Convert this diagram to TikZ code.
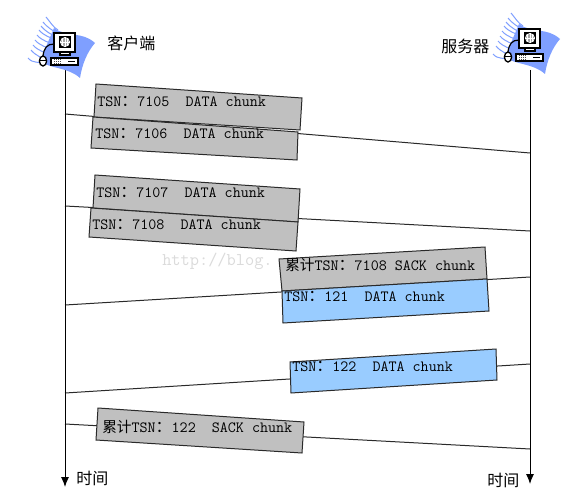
\documentclass[tikz,border=0pt]{standalone}
\usepackage{fontspec}
\newfontfamily\cjk{Noto Sans CJK SC}
\newcommand{\cj}[1]{{\cjk\fontsize{12pt}{12pt}\selectfont #1}}
\newcommand{\cjs}[1]{{\cjk\fontsize{11pt}{12pt}\selectfont #1}}
\usetikzlibrary{arrows.meta}
\definecolor{boxgray}{HTML}{C0C0C0}
\definecolor{boxblue}{HTML}{99CCFF}
\definecolor{swoosh}{HTML}{7F9FFF}
\definecolor{edgegray}{HTML}{2A2A2A}
\tikzset{
  msgbox/.style={draw=edgegray,line width=0.75pt,line join=miter},
  graybox/.style={msgbox,fill=boxgray},
  bluebox/.style={msgbox,fill=boxblue},
  msgline/.style={draw=edgegray,line width=0.75pt},
  lifeline/.style={draw=black,line width=0.75pt,-{Latex[length=7.5pt,width=6pt]}},
  boxlabel/.style={anchor=west,inner sep=0pt,font=\ttfamily\fontsize{11.7pt}{12pt}\selectfont},
  caption/.style={anchor=west,inner sep=0pt},
  stripe/.style={draw=swoosh,line width=0.75pt}
}
\newcommand{\hosticon}[2]{%
\begin{scope}[shift={(#1,#2)}]
  \fill[swoosh] (54,28) .. controls (68,38) and (82,31) .. (95,43)
     .. controls (87,52) and (82,65) .. (80,78)
     .. controls (68,67) and (50,69) .. (40,61) -- cycle;
  \foreach \a/\b/\c/\d in {46/17/58/30,43/22/57/33,41/26/56/37,39/30/55/40,37/35/54/45,35/40/52/50,33/45/50/55,31/50/46/60,28/58/44/64}
    \draw[stripe] (\a,\b) .. controls ({\a+5},{\b+6}) and ({\c-5},{\d-3}) .. (\c,\d);
  \draw[black,line width=0.9pt] (43,56) .. controls (44,48) and (47,44) .. (54,44);
  \draw[black,fill=white,line width=1pt] (43,61) ellipse (3.6 and 5);
  \draw[black,line width=.6pt] (39.5,60) -- (46.5,60);
  \draw[black,fill=white,line width=1pt] (54,33) rectangle (75,52);
  \fill[black] (58.5,36.5) rectangle (71,48);
  \draw[white,fill=gray!70,line width=.5pt] (65,42) circle (4.6);
  \draw[white,line width=.4pt] (65,37.4) -- (65,46.6) (60.4,42) -- (69.6,42) (62.5,38) -- (62.5,46) (67.5,38) -- (67.5,46);
  \draw[black,fill=white,line width=.8pt] (60,52) rectangle (70,55);
  \draw[black,fill=white,line width=1pt] (51,58) rectangle (78,65);
  \foreach \x in {54,56,58,60}\foreach \y in {60,62,64}\fill[black!70] (\x,\y) rectangle ++(1,-.9);
  \fill[black] (68,60.6) rectangle (75,62);
\end{scope}}
\begin{document}
\begin{tikzpicture}[x=0.75pt,y=-0.75pt]
\useasboundingbox (0,0) rectangle (585,499);
\fill[white] (0,0) rectangle (585,499);
\node[caption,text=black!14,font=\ttfamily\fontsize{13.4pt}{14pt}\selectfont] (wm) at (162,261) {http://blog.};
% end points
\coordinate (c0) at (65,70); \coordinate (c1) at (65,487);
\coordinate (s0) at (530,70); \coordinate (s1) at (530,484);
\foreach \n/\cy/\sy in {a/114/153,b/206/231,c/305/277,d/393/364,e/424/449}{
  \coordinate (c\n) at (65,\cy); \coordinate (s\n) at (530,\sy);
  \draw[msgline] (c\n) -- (s\n);
}
\draw[lifeline] (c0) -- (c1);
\draw[lifeline] (s0) -- (s1);
\hosticon{0}{0}
\hosticon{465}{-4}
\node[caption] (client) at (107,43) {\cj{客户端}};
\node[caption] (server) at (441,46) {\cj{服务器}};
\node[caption] (tl) at (76,478) {\cj{时间}};
\node[caption] (tr) at (487,480) {\cj{时间}};
% boxes
\draw[graybox] (96,84) -- (302,98) -- (300,130) -- (94,117) -- cycle;
\draw[graybox] (93,117) -- (298,132) -- (297,160) -- (91,148) -- cycle;
\draw[graybox] (95,175) -- (300,189) -- (298,222) -- (93,208) -- cycle;
\draw[graybox] (91,208) -- (298,222) -- (296,251) -- (89,237) -- cycle;
\draw[graybox] (279,259) -- (485,247) -- (487,279) -- (282,291) -- cycle;
\draw[bluebox] (282,291) -- (487,279) -- (489,311) -- (283,323) -- cycle;
\draw[bluebox] (290,362) -- (496,349) -- (497,380) -- (291,393) -- cycle;
\draw[graybox] (98,408) -- (304,422) -- (302,453) -- (96,440) -- cycle;
% labels
\newcommand{\cl}{\cj{：}}
\node[boxlabel] (l1) at (97,102) {TSN\cl 7105~~DATA chunk};
\node[boxlabel] (l2) at (95,134) {TSN\cl 7106~~DATA chunk};
\node[boxlabel] (l3) at (96,193) {TSN\cl 7107~~DATA chunk};
\node[boxlabel] (l4) at (92,225) {TSN\cl 7108~~DATA chunk};
\node[boxlabel] (l5) at (285,265) {\cjs{累计}TSN\cl 7108 SACK chunk};
\node[boxlabel] (l6) at (284,297) {TSN\cl 121~~DATA chunk};
\node[boxlabel] (l7) at (292,367) {TSN\cl 122~~DATA chunk};
\node[boxlabel] (l8) at (102,427) {\cjs{累计}TSN\cl 122~~SACK chunk};
\end{tikzpicture}
\end{document}
